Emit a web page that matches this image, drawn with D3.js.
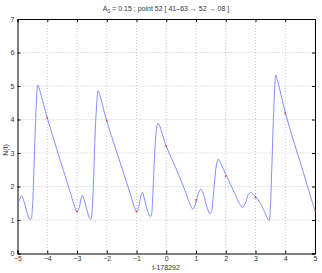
<!DOCTYPE html>
<html><head><meta charset="utf-8">
<script src="https://cdn.jsdelivr.net/npm/d3@7"></script>
<style>body{margin:0;background:#fff}text{font-family:"Liberation Sans",Arial,sans-serif}</style>
</head><body><svg id="c" width="322" height="273"></svg>
<script>
const tVals = [-5.0,-4.93,-4.86,-4.78,-4.68,-4.60,-4.55,-4.50,-4.46,-4.41,-4.36,-4.32,-4.28,-4.0,-3.5,-3.2,-3.08,-3.0,-2.93,-2.87,-2.82,-2.76,-2.65,-2.57,-2.53,-2.49,-2.44,-2.39,-2.33,-2.29,-2.25,-2.0,-1.5,-1.2,-1.07,-0.99,-0.92,-0.85,-0.80,-0.74,-0.62,-0.54,-0.50,-0.46,-0.41,-0.36,-0.31,-0.28,-0.24,0.0,0.3,0.6,0.78,0.89,0.96,1.02,1.08,1.16,1.24,1.38,1.47,1.52,1.58,1.64,1.70,1.75,1.80,2.03,2.3,2.45,2.57,2.66,2.76,2.84,2.92,3.02,3.15,3.30,3.42,3.46,3.50,3.55,3.60,3.65,3.68,3.73,4.01,4.3,4.6,4.85,5.0];
const nVals = [1.40,1.62,1.72,1.55,1.22,1.03,1.02,1.35,2.2,3.5,4.6,5.03,4.95,4.05,2.6,1.75,1.4,1.25,1.35,1.62,1.74,1.6,1.25,1.04,1.03,1.3,2.3,3.6,4.55,4.86,4.78,3.96,2.58,1.75,1.38,1.25,1.4,1.72,1.83,1.65,1.25,1.1,1.15,1.6,2.6,3.4,3.82,3.89,3.85,3.2,2.6,1.95,1.52,1.33,1.42,1.6,1.8,1.92,1.8,1.35,1.18,1.25,1.7,2.3,2.7,2.81,2.75,2.31,1.8,1.5,1.38,1.5,1.76,1.82,1.77,1.67,1.52,1.25,1.02,0.98,1.4,2.6,4.0,5.0,5.33,5.2,4.18,3.3,2.45,1.7,1.28];
const markT = [-4,-3,-2,-1,0,1,2,3,4,5];
const markN = [4.05,1.25,3.96,1.25,3.2,1.6,2.31,1.67,4.18,1.28];
const xTicks = [-5,-4,-3,-2,-1,0,1,2,3,4,5];
const yTicks = [0,1,2,3,4,5,6,7];

const svg = d3.select("#c");
const L=17.5,R=315,T=19,B=253.5;
const x = d3.scaleLinear().domain([-5,5]).range([L,R]);
const y = d3.scaleLinear().domain([0,7]).range([B,T]);

// grid
svg.append("g").selectAll("line").data(xTicks.slice(1,-1)).join("line")
  .attr("x1",d=>x(d)).attr("x2",d=>x(d)).attr("y1",T).attr("y2",B)
  .attr("stroke","#b8b8b8").attr("stroke-width",0.8).attr("stroke-dasharray","1,2");
svg.append("g").selectAll("line").data(yTicks.slice(1,-1)).join("line")
  .attr("y1",d=>y(d)).attr("y2",d=>y(d)).attr("x1",L).attr("x2",R)
  .attr("stroke","#b8b8b8").attr("stroke-width",0.8).attr("stroke-dasharray","1,2");

// axes
const fmt = d=> d<0 ? "\u2212"+Math.abs(d) : String(d);
svg.append("g").attr("transform",`translate(0,${B})`)
  .call(d3.axisBottom(x).tickValues(xTicks).tickSize(-3).tickPadding(3).tickFormat(fmt));
svg.append("g").attr("transform",`translate(${L},0)`)
  .call(d3.axisLeft(y).tickValues(yTicks).tickSize(-3).tickPadding(3).tickFormat(fmt));
svg.append("g").attr("transform",`translate(0,${T})`)
  .call(d3.axisTop(x).tickValues(xTicks).tickSize(-3).tickFormat(""));
svg.append("g").attr("transform",`translate(${R},0)`)
  .call(d3.axisRight(y).tickValues(yTicks).tickSize(-3).tickFormat(""));
svg.selectAll(".domain").attr("stroke","#000").attr("stroke-width",1);
svg.selectAll(".tick line").attr("stroke","#000");
svg.selectAll(".tick text").attr("font-size",7).attr("fill","#333");

// curve
const pts = tVals.map((t,i)=>[t,nVals[i]]);
const line = d3.line().x(d=>x(d[0])).y(d=>y(d[1])).curve(d3.curveCatmullRom.alpha(0.5));
svg.append("path").attr("d",line(pts)).attr("fill","none")
  .attr("stroke","#6a7aff").attr("stroke-width",0.85);

// red marks
svg.append("g").selectAll("circle").data(markT.map((t,i)=>[t,markN[i]])).join("circle")
  .attr("cx",d=>x(d[0])).attr("cy",d=>y(d[1])).attr("r",0.9).attr("fill","#ff3030");

// title
const title = svg.append("text").attr("x",166).attr("y",11).attr("text-anchor","middle")
  .attr("font-size",7).attr("fill","#333");
title.append("tspan").text("A");
title.append("tspan").attr("font-size",5).attr("dy",2).text("0");
title.append("tspan").attr("dy",-2).text(" = 0.15 ; point 52 [ 41\u201363 \u2192 52 \u2192 08 ]");

svg.append("text").attr("x",166).attr("y",270).attr("text-anchor","middle")
  .attr("font-size",7).attr("fill","#333").text("t-178292");
svg.append("text").attr("transform","translate(8,150) rotate(-90)").attr("text-anchor","middle")
  .attr("font-size",7).attr("fill","#333").text("N(t)");
</script></body></html>
